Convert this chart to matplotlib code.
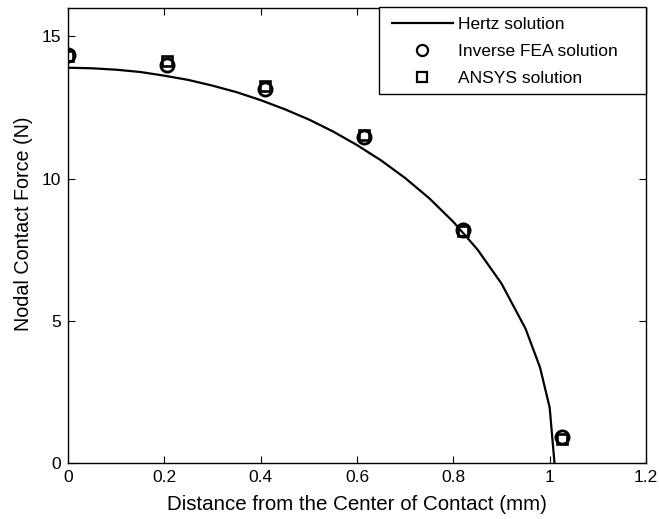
import matplotlib
matplotlib.use("Agg")
import matplotlib.pyplot as plt
from matplotlib.patches import Rectangle

plt.rcParams['font.family'] = ['Liberation Sans', 'DejaVu Sans']

# Hertz solution
hertz_x = [0.0, 0.05, 0.1, 0.15, 0.2, 0.25, 0.3, 0.35, 0.4, 0.45, 0.5, 0.55,
           0.6, 0.65, 0.7, 0.75, 0.8, 0.85, 0.9, 0.95, 0.98, 1.0, 1.01]
hertz_y = [13.90, 13.88, 13.83, 13.75, 13.62, 13.47, 13.27, 13.04, 12.76, 12.44,
           12.08, 11.66, 11.18, 10.64, 10.02, 9.31, 8.48, 7.51, 6.31, 4.72, 3.36,
           1.95, 0.0]

# Inverse FEA solution
fea_x = [0.0, 0.205, 0.41, 0.615, 0.82, 1.025]
fea_y = [14.33, 14.00, 13.16, 11.46, 8.18, 0.92]

# ANSYS solution
ansys_x = [0.0, 0.205, 0.41, 0.615, 0.82, 1.025]
ansys_y = [14.30, 14.15, 13.24, 11.54, 8.15, 0.84]

x_ticks = [0, 0.2, 0.4, 0.6, 0.8, 1.0, 1.2]
x_ticklabels = ['0', '0.2', '0.4', '0.6', '0.8', '1', '1.2']
y_ticks = [0, 5, 10, 15]

W, H = 659, 519
fig = plt.figure(figsize=(W/100, H/100), dpi=100)
ax = fig.add_axes([68/W, 1 - 463/H, (646-68)/W, (463-8)/H])

ax.plot(hertz_x, hertz_y, color='black', lw=1.6, label='Hertz solution')
ax.plot(fea_x, fea_y, linestyle='none', marker='o', markersize=9.5,
        markerfacecolor='none', markeredgecolor='black', markeredgewidth=2.0,
        label='Inverse FEA solution')
ax.plot(ansys_x, ansys_y, linestyle='none', marker='s', markersize=7,
        markerfacecolor='none', markeredgecolor='black', markeredgewidth=1.9,
        label='ANSYS solution')

ax.set_xlim(0, 1.2)
ax.set_ylim(0, 16)
ax.set_xticks(x_ticks)
ax.set_xticklabels(x_ticklabels)
ax.set_yticks(y_ticks)
ax.tick_params(direction='in', top=True, right=True, length=5, width=0.8,
               labelsize=12.5, pad=5)
for s in ax.spines.values():
    s.set_linewidth(1.0)

ax.set_xlabel('Distance from the Center of Contact (mm)', fontsize=14.8, labelpad=7)
ax.set_ylabel('Nodal Contact Force (N)', fontsize=14.2)
ax.yaxis.set_label_coords(-0.061, 0.525)

leg = ax.legend(loc='upper left', bbox_to_anchor=(392/W, 1 - 17/H),
                bbox_transform=fig.transFigure, borderaxespad=0, borderpad=0,
                frameon=False, fontsize=12.5,
                handlelength=3.5, handletextpad=0.3, labelspacing=0.68)
for h in leg.legend_handles[1:]:
    h.set_markeredgewidth(1.6)
leg.legend_handles[1].set_markersize(8)
leg.legend_handles[2].set_markersize(6.5)

frame = Rectangle((379/W, 1 - 94/H), (646-379)/W, (94-7)/H,
                  transform=fig.transFigure, facecolor='white',
                  edgecolor='black', lw=1.0, zorder=4)
fig.add_artist(frame)
leg.set_zorder(5)
fig.add_artist(leg)

fig.savefig('out.png', dpi=100)
